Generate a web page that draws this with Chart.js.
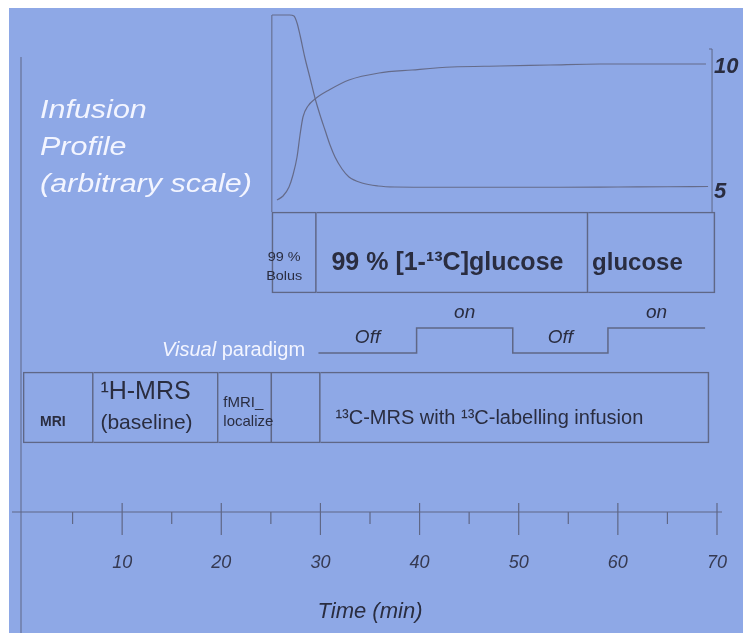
<!DOCTYPE html>
<html>
<head>
<meta charset="utf-8">
<title>Infusion protocol</title>
<script src="https://cdn.jsdelivr.net/npm/chart.js@4.4.1/dist/chart.umd.min.js"></script>
<style>
  html, body { margin: 0; padding: 0; background: #fff; overflow: hidden; }
  canvas { display: block; }
</style>
</head>
<body>
<canvas id="protocol-chart" width="743" height="633"></canvas>
<script>
// ---- values (time in min) ----
const timeTicks = [10, 20, 30, 40, 50, 60, 70];
const minorTicks = [5, 15, 25, 35, 45, 55, 65];

// infusion profile, arbitrary scale
const profileTicks = [5, 10];
const bolusTime = [25.12, 26.9, 27.33, 27.64, 27.94, 28.44, 28.95, 29.45, 29.96, 30.46, 30.97, 31.47, 32.18, 32.88, 34.19, 35.81, 37.52, 42, 48, 54, 60, 65, 69.1];
const bolusLevel = [11.96, 11.96, 11.92, 11.64, 11.16, 10.24, 9.44, 8.64, 7.96, 7.36, 6.76, 6.28, 5.8, 5.48, 5.24, 5.12, 5.08, 5.07, 5.07, 5.07, 5.08, 5.09, 5.1];
const labelTime = [25.62, 26.23, 26.83, 27.23, 27.64, 27.94, 28.24, 28.75, 29.45, 30.87, 32.88, 35.91, 39.24, 43.27, 48.11, 53.16, 58.2, 63.24, 68.89];
const labelLevel = [4.56, 4.72, 5.08, 5.56, 6.28, 7.16, 7.88, 8.32, 8.6, 8.96, 9.36, 9.64, 9.76, 9.88, 9.92, 9.96, 10.0, 10.0, 10.0];

// infusion row
const infusionEdges = [25.1, 29.6, 57.0, 69.8];
const infusionText = ['99 %\nBolus', '99 % [1-¹³C]glucose', 'glucose'];

// visual stimulation
const paradigmTime = [29.8, 39.7, 49.4, 59.0, 68.8];
const paradigmState = [0, 1, 0, 1, 1];
const paradigmText = ['Off', 'on', 'Off', 'on'];

// measurement row
const protocolEdges = [0, 7.1, 19.7, 25.1, 30.0, 69.2];
const protocolText = ['MRI', '¹H-MRS\n(baseline)', 'fMRI_\nlocalize', '', '¹³C-MRS with ¹³C-labelling infusion'];

// ---- layout ----
const W = 743, H = 633;
const PLOT_TOP = 10, PLOT_BOTTOM = 512;
const FONT = '"Liberation Sans", Arial, sans-serif';
const PAPER = '#8ea8e6', INK = '#2a2d40', RULE = '#5f6786', WHITE = '#f3f5ff';
const PROFILE_AXIS_T = 69.5;
const ROW_INFUSION = 1, ROW_PROTOCOL = 0;

// min/max of a hidden scale so that v1 lands on px1 and v2 on px2
function spanFor(v1, px1, v2, px2) {
  const k = (px2 - px1) / (v1 - v2);
  const max = v1 + (px1 - PLOT_TOP) / k;
  return { min: max - (PLOT_BOTTOM - PLOT_TOP) / k, max: max };
}

function points(xs, ys) {
  return xs.map((x, i) => ({ x: x, y: ys[i] }));
}

function cells(edges, row) {
  return edges.slice(0, -1).map((e, i) => ({ x: [e, edges[i + 1]], y: row }));
}

const boxStyle = {
  type: 'bar',
  indexAxis: 'y',
  xAxisID: 'x',
  yAxisID: 'yRow',
  grouped: false,
  backgroundColor: 'rgba(0,0,0,0)',
  borderColor: RULE,
  borderSkipped: false,
  borderWidth: c => ({ top: 1, right: 1, bottom: 1, left: c.dataIndex === 0 ? 1 : 0 })
};

const infusionStyle = [
  { align: 'center', dx: -10, lines: [{ dy: 5.5, font: '12px', sx: 1.2 }, { dy: 24.5, font: '12px', sx: 1.2 }] },
  { align: 'left', dx: 15, lines: [{ dy: 10.5, font: 'bold 25px' }] },
  { align: 'left', dx: 4, lines: [{ dy: 10.5, font: 'bold 24px' }] }
];
const protocolStyle = [
  { align: 'left', dx: 17, lines: [{ dy: 14.5, font: 'bold 14px' }] },
  { align: 'left', dx: 7, lines: [{ dy: -15.5, font: '25px' }, { dy: 15.5, font: '21px' }] },
  { align: 'left', dx: 5, lines: [{ dy: -4.5, font: '15px' }, { dy: 14.5, font: '15px' }] },
  { align: 'left', dx: 0, lines: [] },
  { align: 'left', dx: 15, lines: [{ dy: 10.5, font: '20px' }] }
];

function text(ctx, str, px, py, font, color, align, sx) {
  ctx.save();
  ctx.font = font + ' ' + FONT;
  ctx.fillStyle = color;
  ctx.textAlign = align || 'left';
  ctx.textBaseline = 'middle';
  ctx.translate(px, py);
  ctx.scale(sx || 1, 1);
  ctx.fillText(str, 0, 0);
  ctx.restore();
}

function rule(ctx, x1, y1, x2, y2) {
  ctx.beginPath();
  ctx.moveTo(x1, y1);
  ctx.lineTo(x2, y2);
  ctx.stroke();
}

function rowText(ctx, x, rowY, edges, labels, styles) {
  labels.forEach((lab, i) => {
    if (!lab) return;
    const st = styles[i];
    const x0 = x.getPixelForValue(edges[i]);
    const x1 = x.getPixelForValue(edges[i + 1]);
    const px = st.align === 'center' ? (x0 + x1) / 2 + st.dx : x0 + st.dx;
    lab.split('\n').forEach((line, j) => {
      const l = st.lines[j];
      if (l) text(ctx, line, px, rowY + l.dy, l.font, INK, st.align, l.sx);
    });
  });
}

const figurePlugin = {
  id: 'figure',
  beforeDraw(chart) {
    const ctx = chart.ctx;
    ctx.save();
    ctx.fillStyle = '#ffffff';
    ctx.fillRect(0, 0, W, H);
    ctx.fillStyle = PAPER;
    ctx.fillRect(9, 8, W - 9, H - 8);
    ctx.restore();
  },
  afterDatasetsDraw(chart) {
    const { ctx, chartArea, scales: { x, yInf, yPar, yRow } } = chart;
    ctx.save();
    ctx.strokeStyle = RULE;
    ctx.lineWidth = 1;

    // outer frame line on the left
    rule(ctx, x.getPixelForValue(0) - 2, 57, x.getPixelForValue(0) - 2, H);

    // infusion profile frame and its scale
    const rowTop = yRow.getPixelForValue(ROW_INFUSION) - 40.5;
    const xl = x.getPixelForValue(infusionEdges[0]);
    rule(ctx, xl, yInf.getPixelForValue(Math.max(...bolusLevel)), xl, rowTop);
    const xr = x.getPixelForValue(PROFILE_AXIS_T);
    rule(ctx, xr, yInf.getPixelForValue(10.6), xr, rowTop);
    rule(ctx, xr - 3, yInf.getPixelForValue(10.6), xr, yInf.getPixelForValue(10.6));
    profileTicks.forEach(v => {
      text(ctx, String(v), xr + 2, yInf.getPixelForValue(v) + 3, 'italic bold 22px', INK, 'left');
    });

    // time axis
    const ay = chartArea.bottom;
    ctx.lineWidth = 1.2;
    rule(ctx, chartArea.left - 11, ay, chartArea.right + 5, ay);
    timeTicks.forEach(v => {
      const px = x.getPixelForValue(v);
      rule(ctx, px, ay - 9, px, ay + 23);
    });
    minorTicks.forEach(v => {
      const px = x.getPixelForValue(v);
      rule(ctx, px, ay, px, ay + 12);
    });

    // left hand captions
    text(ctx, 'Infusion', 40, 111, 'italic 25px', WHITE, 'left', 1.22);
    text(ctx, 'Profile', 40, 148, 'italic 25px', WHITE, 'left', 1.22);
    text(ctx, '(arbitrary scale)', 40, 185, 'italic 25px', WHITE, 'left', 1.22);

    // row labels
    rowText(ctx, x, yRow.getPixelForValue(ROW_INFUSION), infusionEdges, infusionText, infusionStyle);
    rowText(ctx, x, yRow.getPixelForValue(ROW_PROTOCOL), protocolEdges, protocolText, protocolStyle);

    // visual paradigm caption and states
    ctx.font = 'italic 20px ' + FONT;
    const wItalic = ctx.measureText('Visual').width;
    text(ctx, 'Visual', 162, 350, 'italic 20px', WHITE, 'left');
    text(ctx, ' paradigm', 162 + wItalic, 350, '20px', WHITE, 'left');
    paradigmText.forEach((lab, i) => {
      const px = (x.getPixelForValue(paradigmTime[i]) + x.getPixelForValue(paradigmTime[i + 1])) / 2;
      const py = yPar.getPixelForValue(paradigmState[i]) - 10;
      ctx.save();
      ctx.font = 'italic 19px ' + FONT;
      ctx.fillStyle = INK;
      ctx.textAlign = 'center';
      ctx.textBaseline = 'alphabetic';
      ctx.fillText(lab, px, py);
      ctx.restore();
    });
    ctx.restore();
  }
};

const ctx = document.getElementById('protocol-chart');

new Chart(ctx, {
  type: 'line',
  data: {
    datasets: [
      Object.assign({}, boxStyle, { data: cells(infusionEdges, ROW_INFUSION), barThickness: 81 }),
      Object.assign({}, boxStyle, { data: cells(protocolEdges, ROW_PROTOCOL), barThickness: 71 }),
      {
        data: points(bolusTime, bolusLevel),
        yAxisID: 'yInf',
        borderColor: '#656b8a',
        borderWidth: 1.2,
        pointRadius: 0,
        cubicInterpolationMode: 'monotone'
      },
      {
        data: points(labelTime, labelLevel),
        yAxisID: 'yInf',
        borderColor: '#656b8a',
        borderWidth: 1.2,
        pointRadius: 0,
        cubicInterpolationMode: 'monotone'
      },
      {
        data: points(paradigmTime, paradigmState),
        yAxisID: 'yPar',
        borderColor: RULE,
        borderWidth: 1.5,
        pointRadius: 0,
        stepped: 'before'
      }
    ]
  },
  options: {
    responsive: false,
    animation: false,
    events: [],
    layout: { padding: { top: PLOT_TOP, left: 23, right: 26, bottom: 0 } },
    plugins: {
      legend: { display: false },
      tooltip: { enabled: false }
    },
    scales: {
      x: {
        type: 'linear',
        min: 0,
        max: 70,
        offset: false,
        // tick marks are drawn by the plugin; the hidden tick length only spaces the labels
        grid: { display: false, drawTicks: true, tickLength: 40 },
        border: { display: false },
        afterBuildTicks: scale => { scale.ticks = timeTicks.map(v => ({ value: v })); },
        afterFit: scale => { scale.height = H - PLOT_BOTTOM; },
        ticks: {
          padding: 0,
          maxRotation: 0,
          autoSkip: false,
          color: '#363a52',
          font: { family: FONT, size: 18, style: 'italic' }
        },
        title: {
          display: true,
          text: 'Time (min)',
          color: INK,
          font: { family: FONT, size: 22, style: 'italic' },
          padding: { top: 0, bottom: 8 }
        }
      },
      yInf: Object.assign({ type: 'linear', display: false, offset: false }, spanFor(10, 64, 5, 189)),
      yPar: Object.assign({ type: 'linear', display: false, offset: false }, spanFor(1, 328, 0, 353)),
      yRow: Object.assign({ type: 'linear', display: false, offset: false }, spanFor(ROW_INFUSION, 252.5, ROW_PROTOCOL, 407.5))
    }
  },
  plugins: [figurePlugin]
});
</script>
</body>
</html>
